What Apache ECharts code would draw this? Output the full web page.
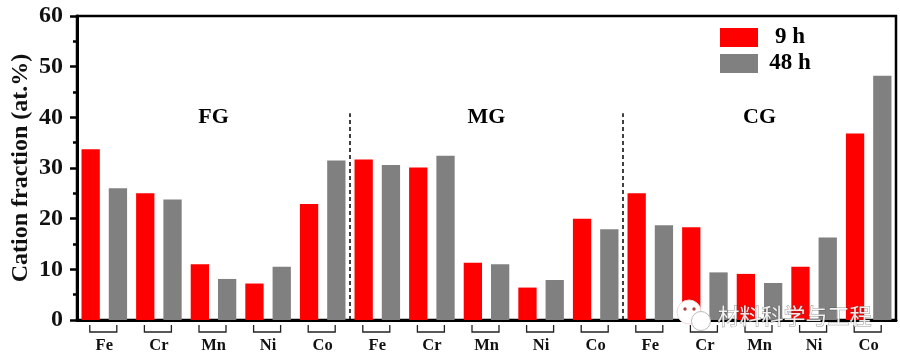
<!DOCTYPE html>
<html>
<head>
<meta charset="utf-8">
<script src="https://cdn.jsdelivr.net/npm/echarts@6/dist/echarts.min.js"></script>
<style>
  html, body { margin: 0; padding: 0; background: #fff; }
  #chart { width: 900px; height: 357px; }
</style>
</head>
<body>
<div id="chart"></div>
<script>
const elements = ['Fe', 'Cr', 'Mn', 'Ni', 'Co', 'Fe', 'Cr', 'Mn', 'Ni', 'Co', 'Fe', 'Cr', 'Mn', 'Ni', 'Co'];
const values9h = [33.7, 25, 11, 7.2, 22.9, 31.7, 30.1, 11.3, 6.4, 20, 25, 18.3, 9.1, 10.5, 36.8];
const values48h = [26, 23.8, 8.1, 10.5, 31.5, 30.6, 32.4, 11, 7.9, 17.9, 18.7, 9.4, 7.3, 16.3, 48.2];
const groupNames = ['FG', 'MG', 'CG'];
const yTicks = { min: 0, max: 60, step: 10 };

const serif = '"Liberation Serif", "Times New Roman", serif';
const black = '#000';

const chart = echarts.init(document.getElementById('chart'), null, { renderer: 'canvas' });

// hidden value axis: one unit per element, used for dividers, brackets and group names
const dividerLine = (x) => ({
  type: 'line',
  xAxisIndex: 1,
  data: [[x, 0], [x, 40.8]],
  symbol: 'none',
  silent: true,
  z: 4,
  lineStyle: { color: black, type: [4, 3], width: 1.5 }
});

chart.setOption({
  animation: false,
  backgroundColor: '#fff',
  grid: {
    left: 77,
    right: 4,
    top: 16,
    bottom: 37,
    show: true,
    borderColor: black,
    borderWidth: 2.5,
    containLabel: false,
    outerBoundsMode: 'none'
  },
  legend: {
    left: 715,
    top: 21,
    orient: 'vertical',
    icon: 'rect',
    itemWidth: 38,
    itemHeight: 19,
    itemGap: 3,
    selectedMode: false,
    data: ['9 h', '48 h'],
    formatter: '{a|{name}}',
    textStyle: {
      rich: {
        a: {
          fontFamily: serif,
          fontWeight: 'bold',
          fontSize: 23,
          color: black,
          width: 54,
          align: 'center',
          lineHeight: 19
        }
      }
    }
  },
  xAxis: [
    {
      type: 'category',
      data: elements,
      axisLine: { show: true, onZero: false, lineStyle: { color: black, width: 3 } },
      axisTick: { show: false },
      axisLabel: {
        interval: 0,
        margin: 17,
        fontFamily: serif,
        fontWeight: 'bold',
        fontSize: 16.5,
        color: '#111'
      }
    },
    { type: 'value', min: 0, max: elements.length, show: false }
  ],
  yAxis: {
    type: 'value',
    min: yTicks.min,
    max: yTicks.max,
    interval: yTicks.step,
    name: 'Cation fraction (at.%)',
    nameLocation: 'middle',
    nameGap: 44,
    nameMoveOverlap: false,
    nameTextStyle: { fontFamily: serif, fontWeight: 'bold', fontSize: 24, color: '#111' },
    axisLine: { show: true, lineStyle: { color: black, width: 3 } },
    axisTick: { show: true, length: 7, lineStyle: { color: black, width: 2.5 } },
    minorTick: { show: true, splitNumber: 2, length: 4, lineStyle: { color: black, width: 2.5 } },
    splitLine: { show: false },
    axisLabel: { margin: 14, fontFamily: serif, fontWeight: 'bold', fontSize: 24, color: '#111' }
  },
  series: [
    {
      name: '9 h',
      type: 'bar',
      data: values9h,
      barWidth: 18.3,
      barGap: '49%',
      itemStyle: { color: '#ff0000' }
    },
    {
      name: '48 h',
      type: 'bar',
      data: values48h,
      barWidth: 18.3,
      itemStyle: { color: '#808080' }
    },
    dividerLine(5),
    dividerLine(10),
    {
      // bracket under each pair of bars
      type: 'custom',
      xAxisIndex: 1,
      clip: false,
      silent: true,
      data: elements.map((_, i) => [i + 0.5, 0]),
      renderItem(params, api) {
        const p = api.coord([api.value(0), 0]);
        return {
          type: 'polyline',
          shape: {
            points: [[p[0] - 14.5, p[1] + 5], [p[0] - 14.5, p[1] + 12], [p[0] + 12.5, p[1] + 12], [p[0] + 12.5, p[1] + 5]]
          },
          style: { stroke: '#222', lineWidth: 1.3, fill: null }
        };
      }
    },
    {
      type: 'scatter',
      xAxisIndex: 1,
      symbolSize: 0,
      silent: true,
      itemStyle: { opacity: 1 },
      data: groupNames.map((name, i) => ({ value: [i * 5 + 2.5, 40], name })),
      label: {
        show: true,
        position: 'inside',
        formatter: '{b}',
        fontFamily: serif,
        fontWeight: 'bold',
        fontSize: 22,
        color: '#000',
        opacity: 1
      }
    }
  ],
  graphic: [
    { type: 'circle', shape: { cx: 689, cy: 312, r: 12 }, style: { fill: '#ffffff', stroke: '#f2d8d8', lineWidth: 1 }, z: 20 },
    { type: 'circle', shape: { cx: 701, cy: 321, r: 9.5 }, style: { fill: '#ffffff', stroke: '#bbbbbb', lineWidth: 1 }, z: 21 },
    { type: 'circle', shape: { cx: 685, cy: 309, r: 1.7 }, style: { fill: '#b04040' }, z: 22 },
    { type: 'circle', shape: { cx: 694, cy: 309, r: 1.7 }, style: { fill: '#b04040' }, z: 22 },
    {
      type: 'text',
      left: 717,
      top: 304,
      z: 23,
      style: {
        text: '材料科学与工程',
        fontFamily: '"Noto Sans CJK SC", sans-serif',
        fontSize: 22,
        fill: 'rgba(255,255,255,0.9)',
        stroke: 'rgba(70,70,70,0.55)',
        lineWidth: 1
      }
    }
  ]
});
</script>
</body>
</html>
